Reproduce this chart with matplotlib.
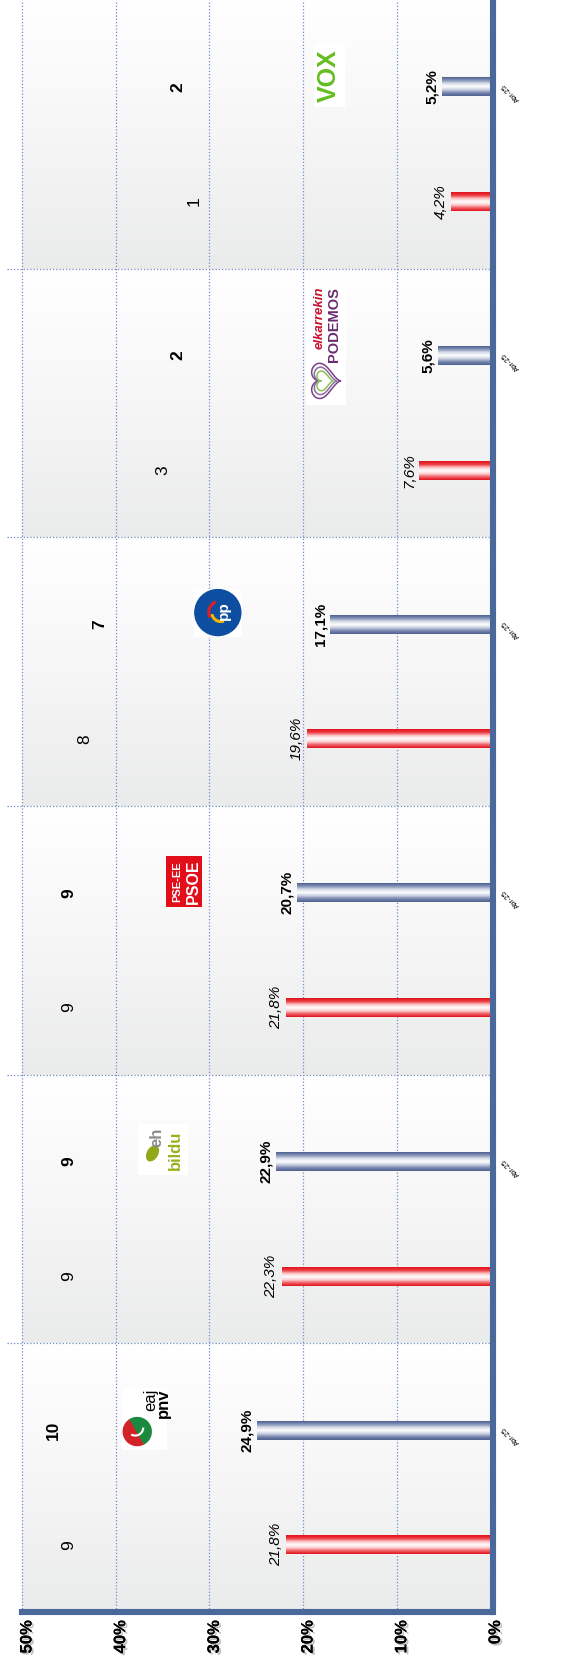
import numpy as np
import matplotlib
matplotlib.use("Agg")
import matplotlib.pyplot as plt
import matplotlib.patheffects as pe
from matplotlib.patches import Rectangle, Circle, Wedge, Arc, Ellipse
from matplotlib.colors import LinearSegmentedColormap
from matplotlib.transforms import ScaledTranslation

plt.rcParams['font.family'] = ['Liberation Sans', 'DejaVu Sans']

# data
parties = ["EAJ-PNV", "EH Bildu", "PSE-EE", "PP", "Elkarrekin Podemos", "Vox"]
prev_vote = [21.8, 22.3, 21.8, 19.6, 7.6, 4.2]
poll_vote = [24.9, 22.9, 20.7, 17.1, 5.6, 5.2]
prev_seats = [9, 9, 9, 8, 3, 1]
poll_seats = [10, 9, 9, 7, 2, 2]
poll_label = "Abr-25"
ticks = [0, 10, 20, 30, 40, 50]
tick_labels = ["0%", "10%", "20%", "30%", "40%", "50%"]

W, H = 562, 1671
fig = plt.figure(figsize=(W / 100, H / 100), dpi=100)
ax = fig.add_axes([22 / W, 59 / H, (490.5 - 22) / W, 1 - 59 / H])

n = len(parties)
pos = np.arange(n)
off_prev, off_poll, bh = -0.25, 0.177, 0.07

# background: one gradient band per party (grey at bottom, white at top)
band = np.linspace(0, 1, 200)
bg_cmap = LinearSegmentedColormap.from_list("bg", ["#EAEBEB", "#F6F6F6", "#FFFFFF"])
ax.imshow(np.tile(band, n)[:, None], cmap=bg_cmap, aspect="auto",
          extent=(50, 0, -0.5, n - 0.5), origin="lower", zorder=0,
          interpolation="nearest")

# grid
grid_kw = dict(color="#6F8DC6", lw=0.9, ls=(0, (1, 1.6)), zorder=1)
for t in ticks[1:]:
    ax.axvline(t, clip_on=False, **grid_kw)
for b in pos[:-1] + 0.5:
    ax.plot([51.6, 0], [b, b], clip_on=False, **grid_kw)

# bars with a cylinder-like gradient
red_cmap = LinearSegmentedColormap.from_list(
    "red", ["#E2131C", "#F06068", "#FCD2D4", "#FFFFFF", "#FBC0C3", "#EC3A42", "#E2131C"])
blue_cmap = LinearSegmentedColormap.from_list(
    "blue", ["#4E6190", "#7887AE", "#C9D0E1", "#FFFFFF", "#D8DDE8", "#8593B7", "#4E6190"])


def gradient_bars(bars, cmap):
    for b in bars:
        x0, y0 = b.get_x(), b.get_y()
        im = ax.imshow(np.linspace(0, 1, 64)[:, None], cmap=cmap, aspect="auto",
                       extent=(x0, x0 + b.get_width(), y0, y0 + b.get_height()),
                       origin="lower", zorder=3, interpolation="bilinear")
        im.set_clip_path(b)


bars_prev = ax.barh(pos + off_prev, prev_vote, height=bh, color="#E2131C", zorder=2)
bars_poll = ax.barh(pos + off_poll, poll_vote, height=bh, color="#4E6190", zorder=2)
gradient_bars(bars_prev, red_cmap)
gradient_bars(bars_poll, blue_cmap)

# value labels
for y, v in zip(pos + off_prev, prev_vote):
    ax.annotate(f"{v:.1f}%".replace(".", ","), (v, y), xytext=(-3, 0),
                textcoords="offset pixels", rotation=90, ha="right", va="center",
                fontsize=11, style="italic", zorder=5)
for y, v in zip(pos + off_poll, poll_vote):
    ax.annotate(f"{v:.1f}%".replace(".", ","), (v, y), xytext=(-3, 0),
                textcoords="offset pixels", rotation=90, ha="right", va="center",
                fontsize=11, fontweight="bold", zorder=5)
    ax.annotate(poll_label, (0, y), xytext=(12, 3), textcoords="offset pixels",
                rotation=135, rotation_mode="anchor", ha="right", va="center",
                fontsize=5.5, annotation_clip=False)

ax.set_xlim(50, 0)
ax.set_ylim(-0.5, n - 0.5)

# seats on a hidden secondary scale
ax2 = ax.twiny()
ax2.set_xlim(12, -18)
ax2.axis("off")
for y, s in zip(pos + off_prev, prev_seats):
    ax2.text(s, y, str(s), rotation=90, ha="center", va="center", fontsize=12.5)
for y, s in zip(pos + off_poll, poll_seats):
    ax2.text(s, y, str(s), rotation=90, ha="center", va="center", fontsize=12.5,
             fontweight="bold")

# axes styling
for side in ["left", "top"]:
    ax.spines[side].set_visible(False)
for side in ["right", "bottom"]:
    ax.spines[side].set_color("#4A6899")
    ax.spines[side].set_linewidth(4.4)
    ax.spines[side].set_capstyle("projecting")
    ax.spines[side].set_zorder(6)
ax.spines["right"].set_position(("outward", 1.8))
ax.set_yticks([])
ax.set_xticks(ticks, tick_labels, rotation=90, fontweight="bold", fontsize=12)
ax.tick_params(axis="x", length=0, pad=6)
shift = ScaledTranslation(5 / 100, 0, fig.dpi_scale_trans)
for lbl in ax.get_xticklabels():
    lbl.set_transform(lbl.get_transform() + shift)
    lbl.set_path_effects([pe.withSimplePatchShadow(offset=(1.5, -1.5),
                                                   shadow_rgbFace="#999999", alpha=0.6),
                          pe.Normal()])


# party logos, drawn roughly above each poll bar
def logo_axes(i, w, h):
    px, py = ax.transData.transform((poll_vote[i] + 12, pos[i] + 0.22))
    la = fig.add_axes([(px - w / 2) / W, (py - h / 2) / H, w / W, h / H])
    la.set_xlim(0, w)
    la.set_ylim(0, h)
    la.axis("off")
    la.add_patch(Rectangle((0, 0), w, h, color="white"))
    return la


# EAJ-PNV
la = logo_axes(0, 45, 62)
la.add_patch(Wedge((15, 18), 14, 120, 300, color="#D2232A"))
la.add_patch(Wedge((15, 18), 14, 300, 480, color="#1B8A3E"))
la.add_patch(Arc((13, 22), 16, 16, theta1=240, theta2=360, color="white", lw=1.5))
la.text(29, 61, "eaj", rotation=90, ha="center", va="top", fontsize=12)
la.text(41, 61, "pnv", rotation=90, ha="center", va="top", fontsize=12, fontweight="bold")

# EH Bildu
la = logo_axes(1, 50, 51)
la.add_patch(Ellipse((14, 22), 16, 10, angle=60, color="#8FA91A"))
la.text(18, 38, "eh", rotation=90, ha="center", va="center", fontsize=12,
        fontweight="bold", color="#8C8C8C")
la.text(37, 25, "bildu", rotation=90, ha="center", va="center", fontsize=12,
        fontweight="bold", color="#9BB11C")

# PSE-EE PSOE
la = logo_axes(2, 36, 51)
la.add_patch(Rectangle((0, 0), 36, 51, color="#E20E1A"))
la.text(11, 25.5, "PSE-EE", rotation=90, ha="center", va="center", fontsize=8,
        fontweight="bold", color="white")
la.text(27, 25.5, "PSOE", rotation=90, ha="center", va="center", fontsize=11.5,
        fontweight="bold", color="white")

# PP
la = logo_axes(3, 48, 48)
la.add_patch(Circle((24, 24), 23, color="#0D4EA0"))
la.add_patch(Arc((27, 24), 24, 24, theta1=115, theta2=205, color="#D8202A", lw=2.2))
la.add_patch(Arc((27, 24), 18, 18, theta1=190, theta2=290, color="#F2B705", lw=2.2))
la.text(30, 26, "pp", rotation=90, ha="center", va="center", fontsize=11,
        fontweight="bold", color="white")

# Elkarrekin Podemos
la = logo_axes(4, 40, 122)
t = np.linspace(0, 2 * np.pi, 200)
hx = 16 * np.sin(t) ** 3
hy = 13 * np.cos(t) - 5 * np.cos(2 * t) - 2 * np.cos(3 * t) - np.cos(4 * t)
for sc, col in zip([1.0, 0.78, 0.56], ["#7B3F8C", "#8A6D9E", "#8CC152"]):
    la.plot(20 - sc * hy - 2, 24 + sc * hx * 1.1, color=col, lw=1.1)
la.text(14, 118, "elkarrekin", rotation=90, ha="center", va="top", fontsize=9.5,
        fontweight="bold", style="italic", color="#C8102E")
la.text(28.5, 118, "PODEMOS", rotation=90, ha="center", va="top", fontsize=10.5,
        fontweight="bold", color="#6A2C70")

# Vox
la = logo_axes(5, 31, 63)
la.text(15, 31, "VOX", rotation=90, ha="center", va="center", fontsize=18,
        fontweight="bold", color="#63BE21")

fig.savefig("out.png", dpi=100)
